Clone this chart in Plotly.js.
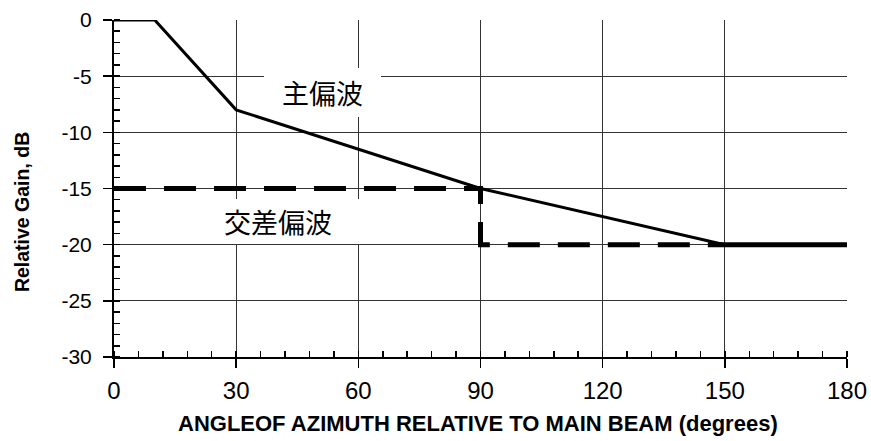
<!DOCTYPE html>
<html>
<head>
<meta charset="utf-8">
<script src="https://cdn.plot.ly/plotly-3.0.1.min.js"></script>
<style>html,body{margin:0;padding:0;background:#fff;}#chart{width:871px;height:441px;}</style>
</head>
<body>
<div id="chart"></div>
<script>
// Co-polar (主偏波) envelope
const coX = [0, 10, 30, 90, 150, 180];
const coY = [0, 0, -8, -15, -20, -20];
// Cross-polar (交差偏波) envelope, dashed part
const crossX = [0, 90, 90, 150];
const crossY = [-15, -15, -20, -20];
// Cross-polar tail (solid, overlapping co-polar)
const tailX = [150, 180];
const tailY = [-20, -20];

const xTicks = [0, 30, 60, 90, 120, 150, 180];
const yTicks = [0, -5, -10, -15, -20, -25, -30];

const coLabel = '主偏波';
const crossLabel = '交差偏波';
const xTitle = 'ANGLEOF AZIMUTH RELATIVE TO MAIN BEAM (degrees)';
const yTitle = 'Relative Gain, dB';

const traces = [
  {x: crossX, y: crossY, mode: 'lines', line: {color: '#000', width: 5, dash: '32px,18px'}, hoverinfo: 'skip'},
  {x: tailX, y: tailY, mode: 'lines', line: {color: '#000', width: 5}, hoverinfo: 'skip'},
  {x: coX, y: coY, mode: 'lines', line: {color: '#000', width: 3}, hoverinfo: 'skip'}
];

const FONT = 'Arial, "Liberation Sans", sans-serif';

const layout = {
  width: 871, height: 441,
  margin: {l: 114, r: 24, t: 20, b: 84, pad: 0},
  paper_bgcolor: '#fff', plot_bgcolor: '#fff',
  showlegend: false,
  xaxis: {
    range: [0, 180], tickvals: xTicks, ticktext: xTicks.map(String),
    ticks: 'outside', ticklen: 9, tickwidth: 1.5, tickcolor: '#000',
    showgrid: true, gridcolor: '#333', gridwidth: 1,
    showline: true, linecolor: '#000', linewidth: 2,
    zeroline: false, tickfont: {family: FONT, size: 24, color: '#000'},
    ticklabelstandoff: 2,
    minor: {dtick: 6, tick0: 0, ticks: 'inside', ticklen: 6, tickwidth: 1.5, tickcolor: '#000', showgrid: false}
  },
  yaxis: {
    range: [-30, 0], tickvals: yTicks, ticktext: yTicks.map(String),
    ticks: 'outside', ticklen: 9, tickwidth: 1.5, tickcolor: '#000',
    showgrid: true, gridcolor: '#333', gridwidth: 1,
    showline: true, linecolor: '#000', linewidth: 2,
    zeroline: false, tickfont: {family: FONT, size: 21, color: '#000'},
    ticklabelstandoff: 7,
    minor: {dtick: 1, tick0: 0, ticks: 'inside', ticklen: 6, tickwidth: 1.5, tickcolor: '#000', showgrid: false}
  },
  annotations: [
    {xref: 'x', yref: 'y', x: 51.2, y: -6.45, text: coLabel, showarrow: false,
     font: {family: '"Noto Sans CJK JP", sans-serif', size: 27, color: '#000'},
     bgcolor: '#fff', borderpad: 0, borderwidth: 0, width: 117, height: 49},
    {xref: 'x', yref: 'y', x: 40.3, y: -17.92, text: crossLabel, showarrow: false,
     font: {family: '"Noto Sans CJK JP", sans-serif', size: 27, color: '#000'},
     bgcolor: '#fff', borderpad: 0, borderwidth: 0, width: 166, height: 45},
    {xref: 'paper', yref: 'paper', x: -0.1255, y: 0.43, xanchor: 'center', yanchor: 'middle',
     text: yTitle, showarrow: false, textangle: -90,
     font: {family: FONT, size: 19.5, color: '#000', weight: 'bold'}},
    {xref: 'paper', yref: 'paper', x: 0.497, y: -0.197, xanchor: 'center', yanchor: 'middle',
     text: xTitle, showarrow: false,
     font: {family: FONT, size: 22, color: '#000', weight: 'bold'}}
  ]
};

Plotly.newPlot('chart', traces, layout, {staticPlot: true, displayModeBar: false});
</script>
</body>
</html>
